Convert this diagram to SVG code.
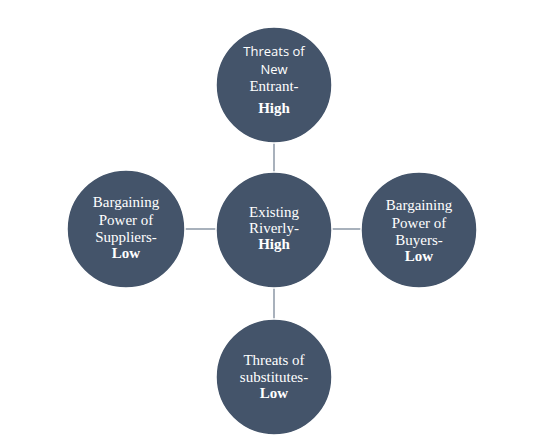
<svg xmlns="http://www.w3.org/2000/svg" width="549" height="443" viewBox="0 0 549 443">
<style>
.c{fill:#44546a;stroke:#ffffff;stroke-width:1.5}
.t{font-family:"Liberation Serif","Times New Roman",serif;font-size:15px;fill:#ffffff;text-anchor:middle}
.s{font-family:"Open Sans","Liberation Sans",sans-serif;font-size:13px}
.b{font-weight:bold}
.ln{stroke:#6f7d8f;stroke-width:1.2;fill:none}
</style>
<rect width="549" height="443" fill="#ffffff"/>
<g id="connectors">
<line class="ln" x1="274" y1="142" x2="274" y2="172"/>
<line class="ln" x1="274" y1="288" x2="274" y2="319"/>
<line class="ln" x1="185" y1="229" x2="216" y2="229"/>
<line class="ln" x1="332" y1="229" x2="361" y2="229"/>
</g>
<g id="center">
<circle class="c" cx="274" cy="230" r="58"/>
<text class="t" x="274" y="217">Existing</text>
<text class="t" x="274" y="233">Riverly-</text>
<text class="t b" x="274" y="249">High</text>
</g>
<g id="top">
<circle class="c" cx="274" cy="85" r="58"/>
<text class="t s" x="274" y="56">Threats of</text>
<text class="t s" x="274" y="74">New</text>
<text class="t" x="274" y="91">Entrant-</text>
<text class="t b" x="274" y="113">High</text>
</g>
<g id="left">
<circle class="c" cx="126" cy="229" r="59"/>
<text class="t" x="126" y="207">Bargaining</text>
<text class="t" x="126" y="225">Power of</text>
<text class="t" x="126" y="242">Suppliers-</text>
<text class="t b" x="126" y="258">Low</text>
</g>
<g id="right">
<circle class="c" cx="419" cy="230" r="58"/>
<text class="t" x="419" y="210">Bargaining</text>
<text class="t" x="419" y="228">Power of</text>
<text class="t" x="419" y="245">Buyers-</text>
<text class="t b" x="419" y="261">Low</text>
</g>
<g id="bottom">
<circle class="c" cx="274" cy="377" r="58"/>
<text class="t" x="274" y="365">Threats of</text>
<text class="t" x="274" y="382">substitutes-</text>
<text class="t b" x="274" y="398">Low</text>
</g>
</svg>
